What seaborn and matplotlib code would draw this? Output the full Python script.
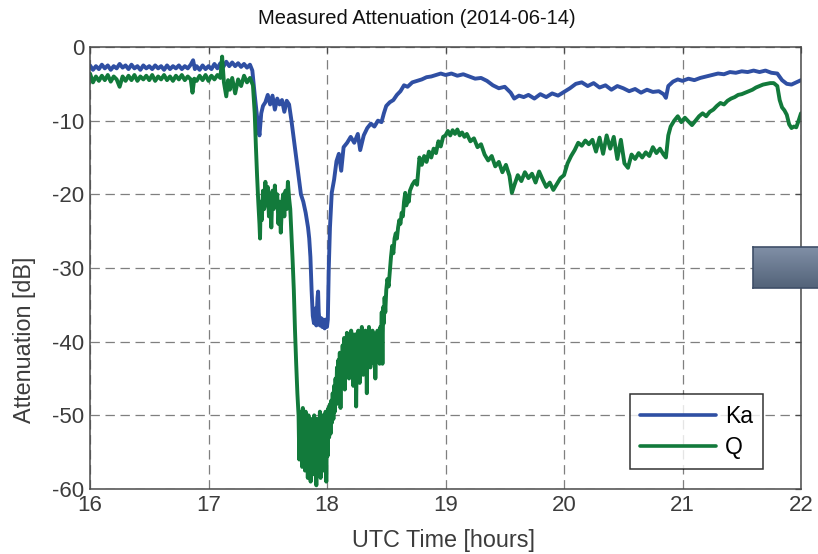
import numpy as np
import pandas as pd
import matplotlib
matplotlib.use("Agg")
import matplotlib.pyplot as plt
from matplotlib.colors import LinearSegmentedColormap
import seaborn as sns

# Ka-band beacon attenuation (UTC hours, dB)
ka_time = [16.000, 16.025, 16.050, 16.075, 16.100, 16.125, 16.150, 16.175, 16.200, 16.225,
           16.250, 16.275, 16.300, 16.325, 16.350, 16.375, 16.400, 16.425, 16.450, 16.475,
           16.500, 16.525, 16.550, 16.575, 16.600, 16.625, 16.650, 16.675, 16.700, 16.725,
           16.750, 16.775, 16.800, 16.825, 16.850, 16.870, 16.885, 16.900, 16.925, 16.950,
           16.975, 17.000, 17.025, 17.050, 17.075, 17.100, 17.125, 17.150, 17.175, 17.200,
           17.225, 17.250, 17.275, 17.300, 17.325, 17.350, 17.370,
           17.39, 17.41, 17.43, 17.445, 17.46, 17.48, 17.50, 17.52, 17.54,
           17.56, 17.58, 17.60, 17.62, 17.64, 17.66, 17.68, 17.70, 17.72, 17.74,
           17.76, 17.78, 17.80, 17.82, 17.84, 17.85, 17.86, 17.87, 17.88, 17.89,
           17.90, 17.91, 17.92, 17.925, 17.93, 17.94, 17.95, 17.96, 17.97, 17.98,
           17.99, 18.00, 18.007, 18.015, 18.025,
           18.04, 18.06, 18.08, 18.10, 18.12, 18.14, 18.17, 18.20, 18.23, 18.26,
           18.28, 18.31, 18.34, 18.37, 18.40, 18.43, 18.46, 18.48, 18.50, 18.53,
           18.56, 18.59, 18.62, 18.65, 18.68, 18.72, 18.76, 18.80, 18.84, 18.88,
           18.92, 18.96, 19.00, 19.05, 19.10, 19.15, 19.20, 19.25, 19.30, 19.35,
           19.40, 19.45, 19.50, 19.55, 19.58, 19.62, 19.66, 19.70, 19.75, 19.80,
           19.85, 19.90, 19.95, 20.00, 20.05, 20.10, 20.15, 20.20, 20.25, 20.30,
           20.35, 20.40, 20.45, 20.50, 20.55, 20.60, 20.65, 20.70, 20.75, 20.80,
           20.84, 20.86, 20.88, 20.92, 20.96, 21.00, 21.05, 21.10, 21.15, 21.20,
           21.25, 21.30, 21.35, 21.40, 21.45, 21.50, 21.55, 21.60, 21.65, 21.70,
           21.75, 21.80, 21.84, 21.88, 21.92, 21.96, 22.00]
ka_db = [-2.5, -3.1, -2.6, -3.0, -2.4, -2.9, -2.5, -3.1, -2.6, -2.9,
         -2.3, -2.8, -2.5, -3.0, -2.4, -2.9, -2.6, -3.1, -2.5, -2.9,
         -2.6, -3.0, -2.5, -2.9, -2.6, -3.1, -2.5, -3.0, -2.6, -2.9,
         -2.5, -3.0, -2.6, -2.9, -2.4, -1.8, -3.0, -2.6, -3.1, -2.5,
         -3.0, -2.6, -3.0, -2.3, -2.9, -2.2, -2.7, -2.0, -2.6, -2.1,
         -2.6, -2.2, -2.7, -2.3, -2.8, -2.4, -3.2,
         -6.5, -9.5, -12.0, -9.0, -8.0, -7.5, -6.5, -7.8, -6.6,
         -8.5, -7.0, -7.8, -7.2, -8.8, -7.3, -7.8, -10.0, -12.5, -15.0,
         -17.5, -20.0, -21.0, -22.5, -24.5, -26.0, -28.5, -33.0, -36.5, -37.5,
         -35.5, -37.8, -34.0, -33.2, -36.0, -37.8, -36.8, -38.0, -37.0, -38.2,
         -37.0, -38.0, -37.0, -30.0, -24.5,
         -19.8, -18.0, -15.5, -14.5, -16.8, -13.6, -13.0, -12.2, -13.0, -11.8,
         -14.0, -12.0, -11.0, -10.4, -10.8, -10.0, -10.2, -9.0, -8.0, -7.5,
         -7.2, -6.5, -6.0, -5.2, -5.4, -4.8, -4.6, -4.4, -4.1, -4.0,
         -3.8, -3.6, -3.8, -3.6, -3.9, -3.7, -4.0, -4.3, -4.2, -4.6,
         -5.2, -5.6, -5.4, -6.2, -7.0, -6.6, -6.8, -6.5, -7.0, -6.4,
         -6.8, -6.3, -6.6, -6.1, -5.6, -5.0, -4.8, -5.3, -4.9, -5.5,
         -5.2, -5.8, -5.3, -5.6, -6.0, -5.7, -6.2, -5.8, -6.1, -6.0,
         -6.4, -6.9, -5.3, -4.7, -4.4, -4.6, -4.3, -4.5, -4.2, -4.0,
         -3.8, -3.6, -3.7, -3.4, -3.5, -3.3, -3.4, -3.2, -3.4, -3.2,
         -3.5, -3.6, -4.5, -5.0, -5.1, -4.8, -4.5]

# Q-band beacon attenuation (UTC hours, dB)
q_time = [16.000, 16.025, 16.050, 16.075, 16.100, 16.125, 16.150, 16.175, 16.200, 16.225,
          16.250, 16.275, 16.300, 16.325, 16.350, 16.375, 16.400, 16.425, 16.450, 16.475,
          16.500, 16.525, 16.550, 16.575, 16.600, 16.625, 16.650, 16.675, 16.700, 16.725,
          16.750, 16.775, 16.800, 16.825, 16.850, 16.865, 16.880, 16.900, 16.925, 16.950,
          16.975, 17.000, 17.025, 17.050, 17.075, 17.100, 17.115, 17.130, 17.150, 17.165,
          17.180, 17.200, 17.225, 17.250, 17.275, 17.300, 17.325, 17.350, 17.375,
          17.39, 17.40, 17.41, 17.42, 17.43, 17.435, 17.44, 17.45, 17.46, 17.47,
          17.48, 17.49, 17.50, 17.51, 17.52, 17.53, 17.54, 17.55, 17.56, 17.57,
          17.58, 17.59, 17.60, 17.61, 17.62, 17.63, 17.64, 17.65, 17.66, 17.67,
          17.68, 17.69, 17.70, 17.71, 17.72, 17.73, 17.74, 17.75, 17.76,
          17.766, 17.772, 17.778, 17.784, 17.790, 17.796, 17.802, 17.808, 17.814, 17.820,
          17.826, 17.832, 17.838, 17.844, 17.850, 17.856, 17.862, 17.868, 17.874, 17.880,
          17.886, 17.892, 17.898, 17.904, 17.910, 17.916, 17.922, 17.928, 17.934, 17.940,
          17.946, 17.952, 17.958, 17.964, 17.970, 17.976, 17.982, 17.988, 17.994, 18.000,
          18.006, 18.012, 18.018, 18.024, 18.030, 18.036, 18.042, 18.048, 18.054, 18.060,
          18.066, 18.072, 18.078, 18.084, 18.090, 18.096, 18.102, 18.108, 18.114, 18.120,
          18.126, 18.132, 18.138, 18.144, 18.150, 18.156, 18.162, 18.168, 18.174, 18.180,
          18.186, 18.192, 18.198, 18.204, 18.210, 18.216, 18.222, 18.228, 18.234, 18.240,
          18.246, 18.252, 18.258, 18.264, 18.270, 18.276, 18.282, 18.288, 18.294, 18.300,
          18.306, 18.312, 18.318, 18.324, 18.330, 18.336, 18.342, 18.348, 18.354, 18.360,
          18.366, 18.372, 18.378, 18.384, 18.390, 18.396, 18.402, 18.408, 18.414, 18.420,
          18.426, 18.432, 18.438, 18.444, 18.450, 18.456, 18.462, 18.468, 18.474, 18.480,
          18.486, 18.492, 18.50, 18.51, 18.52, 18.53, 18.54, 18.55, 18.56, 18.57,
          18.58, 18.59, 18.60, 18.61, 18.62, 18.63, 18.64, 18.65, 18.66, 18.67,
          18.68, 18.69, 18.70, 18.72, 18.74, 18.76, 18.78, 18.80, 18.82, 18.84,
          18.86, 18.88, 18.90, 18.92, 18.94, 18.96, 18.98, 19.00, 19.02, 19.04,
          19.06, 19.08, 19.10, 19.12, 19.14, 19.16, 19.18,
          19.21, 19.24, 19.27, 19.30, 19.33, 19.36, 19.39, 19.42,
          19.45, 19.48, 19.51, 19.54, 19.56, 19.58, 19.61, 19.64, 19.67, 19.70,
          19.73, 19.76, 19.79, 19.82, 19.85, 19.88, 19.91, 19.94, 19.97, 20.00,
          20.03, 20.06, 20.09, 20.12, 20.15, 20.18, 20.21, 20.24, 20.27, 20.30,
          20.33, 20.36, 20.39, 20.42, 20.45, 20.48, 20.51, 20.54, 20.57, 20.60,
          20.63, 20.66, 20.69, 20.72, 20.75, 20.78, 20.81, 20.84, 20.86, 20.88,
          20.90, 20.93, 20.96, 20.99, 21.02, 21.05, 21.08, 21.11, 21.14, 21.17,
          21.20, 21.23, 21.26, 21.29, 21.32, 21.35, 21.38, 21.41, 21.44, 21.47,
          21.50, 21.53, 21.56, 21.59, 21.62, 21.65, 21.68, 21.71, 21.74, 21.77,
          21.80, 21.82, 21.84, 21.86, 21.88, 21.90, 21.92, 21.94, 21.96, 21.98,
          22.00]
q_db = [-3.6, -4.8, -4.0, -4.6, -3.9, -4.5, -3.8, -4.7, -4.0, -4.4,
        -5.4, -4.0, -4.6, -3.9, -4.5, -3.8, -4.6, -4.0, -4.4, -3.9,
        -4.5, -3.8, -4.6, -4.0, -4.4, -3.8, -4.5, -4.0, -4.6, -3.9,
        -4.4, -3.8, -4.5, -4.0, -4.4, -6.2, -4.3, -4.6, -3.9, -4.5,
        -3.8, -4.6, -3.9, -4.4, -3.8, -4.2, -1.3, -4.8, -6.7, -4.5,
        -5.8, -4.2, -6.3, -4.4, -5.3, -3.9, -4.8, -4.2, -5.2,
        -9.0, -13.5, -17.5, -21.0, -24.0, -26.0, -21.0, -23.5, -19.5, -22.0,
        -18.3, -21.5, -19.0, -23.0, -20.0, -24.5, -19.5, -22.0, -18.8, -21.5,
        -20.0, -24.0, -21.0, -25.2, -21.5, -20.0, -23.0, -19.5, -22.0, -18.3,
        -20.5, -22.0, -25.5, -29.0, -33.0, -38.5, -43.0, -47.0, -50.0,
        -56.0, -49.5, -55.0, -50.5, -57.0, -49.0, -55.5, -50.0, -57.5, -49.5,
        -54.5, -51.0, -58.5, -50.0, -55.0, -51.5, -59.0, -50.5, -56.5, -51.0,
        -58.0, -50.0, -55.5, -52.0, -59.5, -50.5, -57.0, -51.0, -55.0, -49.5,
        -58.5, -51.5, -56.0, -50.0, -57.5, -51.0, -55.0, -49.5, -59.0, -51.0,
        -55.5, -49.0, -53.0, -48.5, -52.5, -48.0, -51.0, -47.0, -50.5, -46.0,
        -49.5, -45.0, -48.5, -43.5, -47.0, -42.5, -46.0, -41.5, -49.0, -42.0,
        -45.5, -40.5, -44.0, -39.5, -46.5, -41.0, -43.5, -38.8, -42.5, -39.0,
        -45.0, -40.0, -43.0, -38.5, -41.5, -39.0, -46.0, -40.5, -44.0, -39.0,
        -48.8, -41.0, -43.5, -38.5, -42.0, -45.6, -39.5, -42.5, -38.0, -41.0,
        -44.5, -39.0, -42.0, -38.5, -40.5, -47.0, -39.5, -42.0, -38.0, -41.5,
        -43.5, -39.0, -41.0, -38.5, -40.0, -43.0, -39.0, -45.0, -40.0, -42.0,
        -38.5, -41.0, -39.0, -43.0, -38.0, -40.0, -36.0, -43.0, -35.3, -37.5,
        -34.0, -36.0, -33.0, -31.5, -32.5, -30.5, -28.5, -27.0, -28.0, -26.0,
        -25.3, -26.0, -24.5, -23.5, -24.0, -22.5, -23.0, -21.0, -19.8, -21.5,
        -20.3, -21.0, -19.5, -18.7, -18.2, -18.7, -15.0, -16.0, -14.8, -15.6,
        -14.2, -15.0, -13.8, -14.4, -12.8, -13.5, -12.2, -12.0, -11.4, -12.0,
        -11.3, -11.8, -11.2, -12.0, -11.6, -12.2, -11.8,
        -12.8, -12.4, -13.6, -13.2, -14.6, -15.4, -14.8, -16.2,
        -15.6, -17.0, -16.0, -17.5, -19.8, -18.8, -17.4, -18.2, -17.0, -17.8,
        -17.2, -18.4, -16.9, -18.0, -19.0, -18.4, -19.4, -18.6, -17.8, -17.4,
        -15.8, -14.8, -14.0, -13.0, -13.4, -12.7, -13.2, -12.6, -14.2, -12.3,
        -14.5, -12.0, -13.8, -12.2, -15.2, -12.6, -15.8, -16.4, -14.6, -15.2,
        -14.4, -15.0, -14.3, -14.8, -13.6, -14.4, -13.8, -14.6, -15.0, -12.0,
        -10.8, -10.0, -9.4, -10.2, -9.6, -10.1, -10.6, -10.0, -9.4, -9.0,
        -9.4, -8.8, -8.5, -8.0, -7.6, -7.8, -7.3, -7.0, -6.8, -6.5,
        -6.4, -6.2, -6.0, -5.8, -5.5, -5.3, -5.1, -5.0, -4.9, -4.9,
        -5.3, -7.2, -8.2, -8.6, -9.2, -10.5, -11.0, -10.8, -10.9, -10.0,
        -9.0]

band_names = ["Ka", "Q"]
band_colors = ["#2f4fa3", "#127a3b"]
x_ticks = [16, 17, 18, 19, 20, 21, 22]
y_ticks = [-60, -50, -40, -30, -20, -10, 0]

sns.set_style("white")
plt.rcParams["font.family"] = ["Liberation Sans", "DejaVu Sans"]

df = pd.concat([
    pd.DataFrame({"time": ka_time, "atten": ka_db, "band": band_names[0]}),
    pd.DataFrame({"time": q_time, "atten": q_db, "band": band_names[1]}),
], ignore_index=True)

W, H = 818, 554
fig = plt.figure(figsize=(W / 100, H / 100), dpi=100)
fig.patch.set_facecolor("white")
ax = fig.add_axes([90 / W, 1 - 489 / H, 711 / W, 442 / H])

sns.lineplot(data=df, x="time", y="atten", hue="band",
             palette=dict(zip(band_names, band_colors)),
             estimator=None, sort=False, linewidth=2.8, ax=ax, legend=False)

ax.set_xlim(16, 22)
ax.set_ylim(-60, 0)
ax.set_xticks(x_ticks)
ax.set_yticks(y_ticks)
ax.set_xticklabels([str(v) for v in x_ticks])
ax.set_yticklabels([str(v) for v in y_ticks])

dark = "#3c3c3c"
ax.grid(True, color="#7f7f7f", linestyle=(0, (7.5, 4.5)), linewidth=0.9)
ax.set_axisbelow(True)
for s in ax.spines.values():
    s.set_visible(True)
    s.set_color("#4a4a4a")
    s.set_linewidth(1.1)
ax.tick_params(axis="both", direction="in", length=4, width=0.9,
               colors="#4a4a4a", labelcolor=dark, labelsize=16, pad=4,
               top=True, right=True)

ax.set_xlabel("UTC Time [hours]", fontsize=16.8, color=dark)
ax.xaxis.label.set_va("center")
ax.xaxis.set_label_coords((443 - 90) / 711, (489 - 540) / 442)
ax.set_ylabel("Attenuation [dB]", fontsize=16.8, color=dark)
ax.yaxis.label.set_va("center")
ax.yaxis.set_label_coords((25 - 90) / 711, (489 - 340) / 442)

fig.text(417 / W, 1 - 18 / H, "Measured Attenuation (2014-06-14)",
         fontsize=14.5, color="#111111", ha="center", va="center")

handles = ax.get_lines()[:2]
leg = ax.legend(handles, band_names, loc="lower right",
                bbox_to_anchor=((763 - 90) / 711, (489 - 469) / 442),
                borderaxespad=0, fontsize=16.5, frameon=True, fancybox=False,
                handlelength=3.3, handletextpad=0.4, labelspacing=0.35,
                borderpad=0.45)
leg.get_frame().set_edgecolor("black")
leg.get_frame().set_linewidth(1.1)
for line in leg.get_lines():
    line.set_linewidth(2.6)
for t in leg.get_texts():
    t.set_color("black")

# shaded box at the right edge
rax = fig.add_axes([752.7 / W, 1 - 288.3 / H, 1 - 752.7 / W, 41.6 / H])
grad = np.linspace(0, 1, 64).reshape(-1, 1)
cmap = LinearSegmentedColormap.from_list("box", ["#8190a7", "#536379"])
rax.imshow(grad, aspect="auto", cmap=cmap, extent=[0, 1, 0, 1], origin="upper")
rax.set_xticks([])
rax.set_yticks([])
for name, s in rax.spines.items():
    s.set_color("#3f4f68")
    s.set_linewidth(1.2)
rax.spines["right"].set_visible(False)

fig.savefig("out.png", dpi=100)
